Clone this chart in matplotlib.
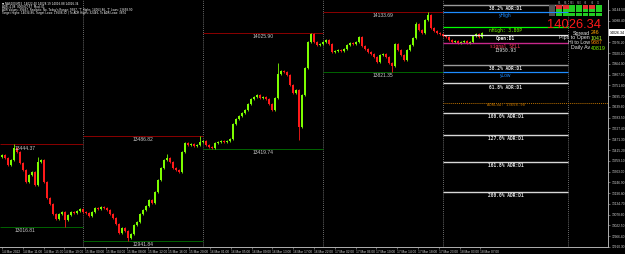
import numpy as np
import matplotlib.pyplot as plt
from matplotlib.patches import Rectangle
from matplotlib.transforms import blended_transform_factory

plt.rcParams['font.family'] = ['Liberation Sans', 'DejaVu Sans']

# NAS100 closes, one bar each (14 Mar - 18 Mar 2022)
closes = [13389, 13374, 13337, 13363, 13426, 13405, 13348, 13311, 13249, 13285,
          13301, 13233, 13353, 13363, 13249, 13166, 13134, 13082, 13056, 13082,
          13093, 13051, 13077, 13093, 13088, 13098, 13108, 13093, 13088, 13072,
          13093, 13114, 13108, 13119, 13114, 13103, 13082, 13062, 13030, 12984,
          13010, 12994, 12957, 12978, 13025, 13041, 13082, 13103, 13124, 13155,
          13140, 13197, 13259, 13322, 13363, 13374, 13353, 13322, 13311, 13301,
          13405, 13452, 13442, 13447, 13436, 13442, 13457, 13462, 13442, 13431,
          13426, 13452, 13457, 13462, 13457, 13462, 13473, 13551, 13577, 13593,
          13608, 13624, 13655, 13681, 13691, 13702, 13686, 13691, 13681, 13655,
          13624, 13686, 13811, 13827, 13822, 13806, 13754, 13712, 13728, 13535,
          13702, 13842, 13978, 14019, 13978, 13962, 13967, 13978, 13988, 13967,
          13926, 13931, 13936, 13931, 13941, 13962, 13973, 13967, 13978, 14004,
          13957, 13941, 13926, 13915, 13900, 13874, 13910, 13915, 13900, 13869,
          13853, 13967, 13936, 13910, 13884, 13936, 13962, 13999, 14072, 14040,
          14025, 14092, 14118, 14051, 14035, 14025, 14019, 14009, 14004, 13988,
          13978, 13983, 13973, 13978, 13983, 13973, 13978, 14009, 14019, 14004,
          14026.34]
first_open = 13380
# bars with long wicks
wick_high = {4: 13444.37, 12: 13378, 55: 13392, 66: 13486.82, 92: 13868,
             103: 14025.90, 138: 14080, 142: 14133.69}
wick_low = {21: 13016.81, 42: 12941.84, 70: 13419.74, 99: 13467, 130: 13821.35}

# daily high / low lines
day_start = [-0.667, 27, 67, 107]
day_end = [27, 67, 107, 147]
day_high = [13444.37, 13486.82, 14025.90, 14133.69]
day_low = [13016.81, 12941.84, 13419.74, 13821.35]
day_label_x = [7.7, 47, 87, 127]
separators = [27, 67, 107, 147]

# ADR panel (current day)
panel_l, panel_r = 147, 188.7
open_d1 = 14014.0
adr = 408.0
adr_pcts = [0.382, -0.382, -0.618, -1.0, -1.27, -1.618, -2.0]
adr_names = ['38.2% ADR:D1', '38.2% ADR:D1', '61.8% ADR:D1', '100.0% ADR:D1',
             '127.0% ADR:D1', '161.8% ADR:D1', '200.0% ADR:D1']
y_high, y_low = 14133.69, 13821.35
n_high = 14056.0
signal_level = 13972.0
adr_low = 13660.0
last_price = 14026.34

price_ticks = 14144.5 - 56.1 * np.arange(23)
price_ticks = price_ticks[np.abs(price_ticks - last_price) > 25]
time_labels = ['14 Mar 2022', '14 Mar 11:00', '14 Mar 15:00', '14 Mar 19:00',
               '15 Mar 00:00', '15 Mar 04:00', '15 Mar 08:00', '15 Mar 12:00',
               '15 Mar 16:00', '15 Mar 20:00', '16 Mar 01:00', '16 Mar 05:00',
               '16 Mar 09:00', '16 Mar 13:00', '16 Mar 17:00', '16 Mar 22:00',
               '17 Mar 02:00', '17 Mar 06:00', '17 Mar 10:00', '17 Mar 14:00',
               '17 Mar 18:00', '17 Mar 23:00', '18 Mar 03:00', '18 Mar 07:00']
time_pos = [6.933 * k for k in range(len(time_labels))]

header = ['\u25bc NAS100,M15  14022.40 14028.19 14016.88 14026.34',
          'ADR: 4.08  0000:07:57  Mod: 01',
          "ADR Values: 39467, Realistic: No, Today's Range: 9387, 'T' Highs: 14063.86, 'T' Lows: 13658.90",
          'Target Highs: 14034.86, Target Lows: 13608.32 | To ADR Highs: 32446, To ADR Lows: 3874']

stat_names = ['Spread', 'Pips to Open', 'Hi to Low', 'Daily Av']
stat_values = ['246', '1041', '9387', '40819']
stat_colors = ['#FFA500', '#ADFF2F', '#FF8C00', '#7CFC00']

tf_names = ['M1', 'M5', 'M15', 'M30', 'H1', 'H4', 'D1']
signal_rows = [['r', 'r', 'g', 'g', 'r', 'r', 'g'],
               ['g', 'g', 'g', 'g', 'g', 'g', 'g'],
               ['g', 'g', 'g', 'g', 'g', 'g', 'g']]

W, H = 625, 254
fig = plt.figure(figsize=(W / 100, H / 100), dpi=100, facecolor='black')
ax = fig.add_axes([0, 7 / H, 608 / W, 247 / H], facecolor='black')
ax.set_xlim(-0.667, 202)
ax.set_ylim(12910.4, 14196.2)

# candles
c = np.array(closes, float)
o = np.r_[first_open, c[:-1]]
x = np.arange(len(c))
hi = np.maximum(o, c) + 5
lo = np.minimum(o, c) - 5
for k, v in wick_high.items():
    hi[k] = v
for k, v in wick_low.items():
    lo[k] = v
up = c >= o
cols = np.where(up, '#7CFC00', '#FF1A1A')
body = np.maximum(np.abs(c - o), 3)
ax.vlines(x, lo, hi, colors=cols, lw=0.6, zorder=3)
ax.bar(x, body, bottom=np.minimum(o, c), width=0.45, color=cols, lw=0, zorder=3)

# separators
for s in separators:
    ax.axvline(s, color='#909090', lw=0.6, ls=(0, (1, 1.5)), zorder=1)
ax.axvline(panel_r, color='#909090', lw=0.6, ls=(0, (1, 1.5)), zorder=1)

# daily highs / lows
ax.hlines(day_high, day_start, day_end, colors='#8B0000', lw=0.7, zorder=2)
ax.hlines(day_low, day_start, day_end, colors='#006400', lw=0.7, zorder=2)
for xl, h, l in zip(day_label_x, day_high, day_low):
    for v in (h, l):
        ax.annotate(f'{v:.2f}', (xl, v), xytext=(0, -0.8), textcoords='offset points',
                    ha='center', va='top', fontsize=3.6, color='#C8C8C8', zorder=4)

# ADR panel
pc = (panel_l + panel_r) / 2
mono = 'DejaVu Sans Mono'
for p, name in zip(adr_pcts, adr_names):
    lvl = open_d1 + p * adr
    col = '#9A9A9A' if abs(p) < 0.4 else '#D8D8D8'
    ax.hlines(lvl, panel_l, panel_r, colors=col, lw=1.0, zorder=4)
    ax.annotate(name, (pc, lvl), xytext=(0, -0.8), textcoords='offset points',
                ha='center', va='top', fontsize=3.3, color='#E0E0E0',
                family=mono, fontweight='bold', zorder=5)
for lvl, name in [(y_high, 'yHigh'), (y_low, 'yLow')]:
    ax.hlines(lvl, panel_l, panel_r, colors='#1E8CFF', lw=0.9, zorder=4)
    ax.annotate(name, (pc, lvl), xytext=(0, -0.8), textcoords='offset points',
                ha='center', va='top', fontsize=3.5, color='#1E8CFF', zorder=5)
ax.hlines(n_high, panel_l, panel_r, colors='#00FF00', lw=0.9, zorder=4)
ax.annotate('nHigh: 3.80P', (pc, n_high), xytext=(0, -0.8), textcoords='offset points',
            ha='center', va='top', fontsize=3.3, color='#7CFC00', family=mono, zorder=5)
ax.hlines(open_d1, panel_l, panel_r, colors='#E8E8E8', lw=0.9, zorder=4)
ax.annotate('Open:D1', (pc, open_d1), xytext=(0, -0.8), textcoords='offset points',
            ha='center', va='top', fontsize=3.3, color='#F0F0F0', family=mono,
            fontweight='bold', zorder=5)
ax.hlines(signal_level, panel_l, panel_r, colors='#C8288C', lw=1.0, zorder=4)
ax.annotate('signal SELL', (pc, signal_level), xytext=(0, -0.4), textcoords='offset points',
            ha='center', va='top', fontsize=3.3, color='#FF3C5A', family=mono, zorder=5)
ax.annotate('13950.93', (pc, signal_level), xytext=(0, -3.6), textcoords='offset points',
            ha='center', va='top', fontsize=3.3, color='#E0E0E0', family=mono, zorder=5)
ax.hlines(adr_low, panel_l, 202, colors='#B86E00', lw=0.7, ls=(0, (1, 1)), zorder=4)
ax.annotate(f'ADRLow: {adr_low - 1.1:.2f}', (pc, adr_low), xytext=(0, -1.2),
            textcoords='offset points', ha='center', va='center', fontsize=2.8,
            color='#C07400', family=mono, zorder=5)

# axes
for side in ['left', 'top']:
    ax.spines[side].set_visible(False)
for side in ['right', 'bottom']:
    ax.spines[side].set_color('#B0B0B0')
    ax.spines[side].set_linewidth(0.7)
ax.yaxis.tick_right()
ax.set_yticks(price_ticks)
ax.set_yticklabels([f'{v:.2f}' for v in price_ticks])
ax.tick_params(axis='y', labelsize=2.3, colors='#B0B0B0', labelcolor='#D0D0D0',
               length=1.5, width=0.4, pad=1)
ax.set_xticks(time_pos)
ax.set_xticklabels(time_labels)
ax.tick_params(axis='x', labelsize=2.3, colors='#B0B0B0', labelcolor='#D0D0D0',
               length=1.5, width=0.4, pad=0.8)
for lbl in ax.get_xticklabels():
    lbl.set_ha('left')

trans = blended_transform_factory(ax.transAxes, ax.transData)
ax.text(1.003, last_price, f'{last_price:.2f}', transform=trans, fontsize=2.6,
        color='black', va='center', ha='left', clip_on=False, zorder=6,
        bbox=dict(boxstyle='square,pad=0.35', fc='white', ec='none'))

# header text
for k, line in enumerate(header):
    fig.text(2 / W, 1 - (3.3 + 3.2 * k) / H, line, fontsize=2.0, color='white',
             va='center', ha='left', family=['DejaVu Sans'])

# signal grid
gax = fig.add_axes([548 / W, 1 - 18 / H, 54 / W, 17 / H])
gax.set_xlim(-1.2, len(tf_names))
gax.set_ylim(len(signal_rows) + 1.3, 0)
gax.axis('off')
for j, name in enumerate(tf_names):
    gax.text(j + 0.5, 0.6, name, fontsize=1.8, color='#A0A0A0', ha='center', va='center')
for r, row in enumerate(signal_rows):
    gax.add_patch(Rectangle((-1.1, r + 1.1), 1.0, 0.8, fc='#505050', ec='none'))
    for j, s in enumerate(row):
        gax.add_patch(Rectangle((j + 0.05, r + 1.1), 0.9, 0.8,
                                fc='#E03030' if s == 'r' else '#22CC22', ec='none'))

# price stats
fig.text(601 / W, 1 - 25 / H, f'{last_price:.2f}', fontsize=9.3, color='#FF1A1A',
         ha='right', va='center')
for k, (nm, val, colr) in enumerate(zip(stat_names, stat_values, stat_colors)):
    yy = 1 - (33 + 5 * k) / H
    fig.text(590 / W, yy, nm, fontsize=3.8, color='#E8E8E8', ha='right', va='center')
    fig.text(590.5 / W, yy, val, fontsize=3.8, color=colr, ha='left', va='center')

fig.savefig('out.png', dpi=100, facecolor='black')
